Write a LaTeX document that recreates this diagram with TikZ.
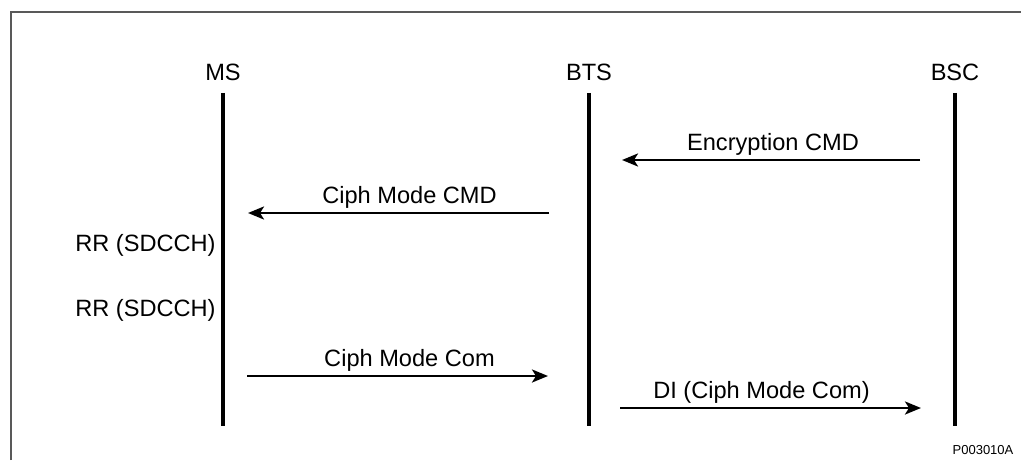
\documentclass[tikz,border=0pt]{standalone}
\usepackage{fontspec}
\setmainfont{Liberation Sans}
\usetikzlibrary{arrows.meta}
\tikzset{
  lifeline/.style={line width=2pt},
  msg/.style={line width=1.3pt, -{Stealth[length=8pt,width=6.5pt,inset=2pt]}},
  msglabel/.style={midway, above, inner sep=1.5pt},
}
\begin{document}
\begin{tikzpicture}[x=0.5pt, y=-0.5pt, font=\fontsize{11.8}{14}\selectfont]
   \useasboundingbox (0,0) rectangle (1021,460);
   \draw[line width=1pt, black!65] (11,460) -- (11,12) -- (1021,12);

   % entities
   \node (ms)  at (223,72) {MS};
   \node (bts) at (589,72) {BTS};
   \node (bsc) at (955,72) {BSC};
   \foreach \n/\x in {ms/223, bts/589, bsc/955} {
      \coordinate (\n top) at (\x,93);
      \coordinate (\n bot) at (\x,426);
      \draw[lifeline] (\n top) -- (\n bot);
   }

   % messages
   \coordinate (a1) at (920,160); \coordinate (b1) at (622,160);
   \coordinate (a2) at (549,213); \coordinate (b2) at (248,213);
   \coordinate (a3) at (247,376); \coordinate (b3) at (548,376);
   \coordinate (a4) at (620,408); \coordinate (b4) at (921,408);
   \draw[msg] (a1) -- (b1) node[msglabel, xshift=1pt] {Encryption CMD};
   \draw[msg] (a2) -- (b2) node[msglabel, xshift=5.5pt] {Ciph Mode CMD};
   \draw[msg] (a3) -- (b3) node[msglabel, xshift=6pt] {Ciph Mode Com};
   \draw[msg] (a4) -- (b4) node[msglabel, xshift=-4.5pt] {DI (Ciph Mode Com)};

   \node[anchor=east, inner sep=0pt] (rr1) at (216,245) {RR (SDCCH)};
   \node[anchor=east, inner sep=0pt] (rr2) at (216,310) {RR (SDCCH)};

   \node[font=\fontsize{6.5}{8}\selectfont] (fig) at (983,450) {P003010A};
\end{tikzpicture}
\end{document}
